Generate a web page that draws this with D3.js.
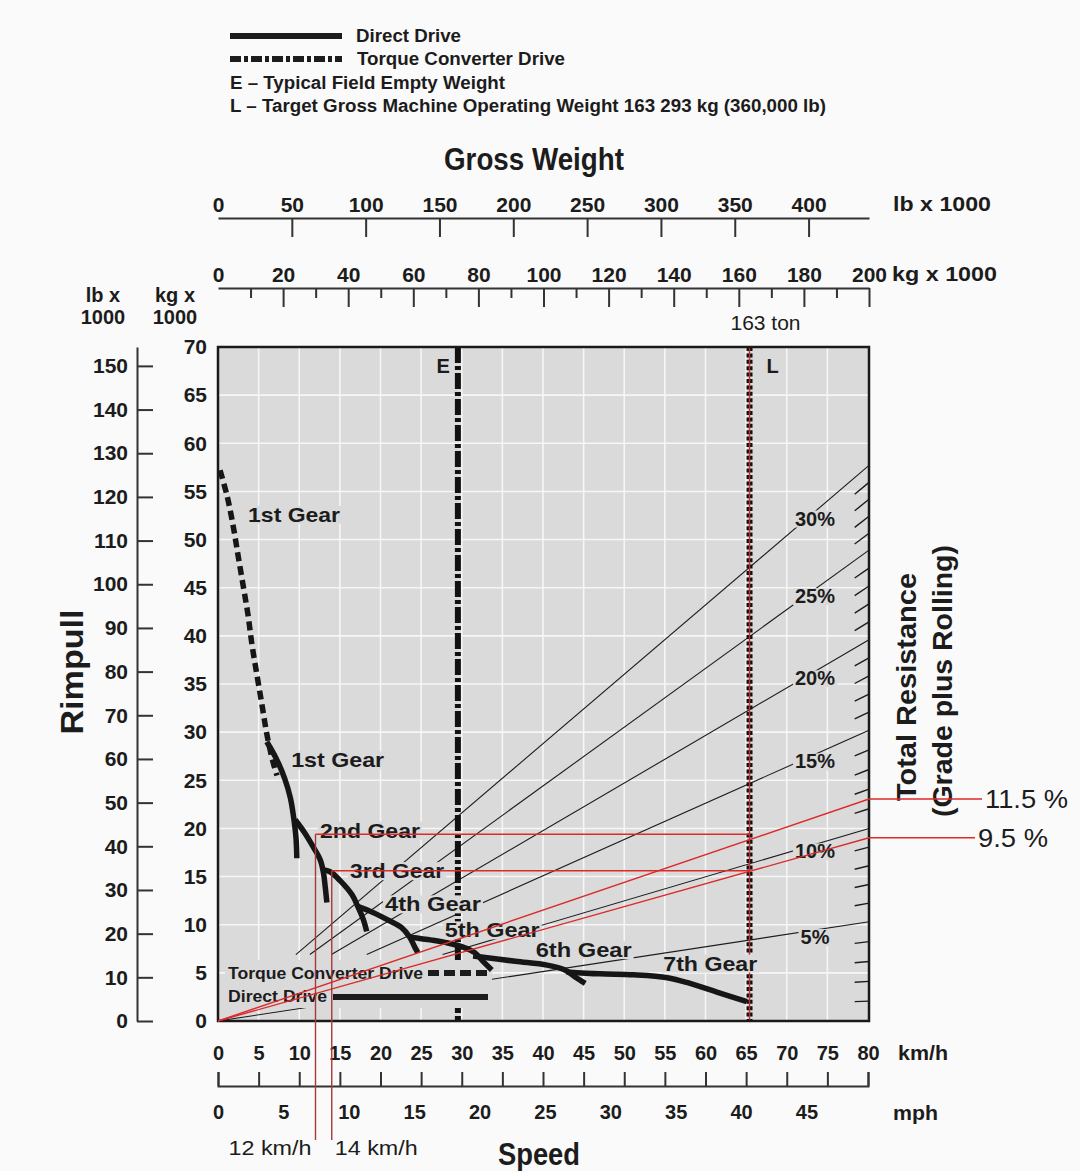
<!DOCTYPE html>
<html>
<head>
<meta charset="utf-8">
<script src="https://cdn.jsdelivr.net/npm/d3@7"></script>
<style>
  body { margin: 0; background: #fafafa; }
  svg { display: block; font-family: "Liberation Sans", Arial, Helvetica, sans-serif; }
</style>
</head>
<body>
<svg id="chart" width="1080" height="1171"></svg>
<script>
// ---------------- data ----------------
// rimpull axes
const rimpullTicksKg = d3.range(0, 71, 5);          // kg x 1000
const rimpullTicksLb = d3.range(0, 151, 10);        // lb x 1000
// speed axes
const speedTicksKmh = d3.range(0, 81, 5);
const speedTicksMph = d3.range(0, 46, 5);
// gross weight axes
const weightTicksLb = d3.range(0, 401, 50);
const weightTicksKg = d3.range(0, 201, 20);
const weightMinorKg = d3.range(10, 200, 20);

// torque converter drive, 1st gear (speed km/h, rimpull kg x 1000)
const tcFirstSpeed   = [0.25, 1.1, 1.85, 2.46, 3.08, 3.69, 4.18, 4.8, 5.42, 6.03, 6.77, 7.26];
const tcFirstRimpull = [57.2, 54.6, 51.5, 48.4, 45.3, 42.2, 39.1, 35.9, 32.8, 29.7, 26.9, 25.5];

// direct drive gears
const gearNames = ["1st Gear", "2nd Gear", "3rd Gear", "4th Gear", "5th Gear", "6th Gear", "7th Gear"];
const gearSpeeds = [
  [6.0, 7.2, 8.2, 8.9, 9.3, 9.6, 9.7],
  [9.5, 10.7, 11.7, 12.6, 13.0, 13.2, 13.4],
  [12.9, 13.8, 15.0, 16.5, 17.2, 17.9, 18.3],
  [17.2, 19.0, 20.9, 22.6, 23.6, 24.2, 24.6],
  [23.6, 26.3, 28.3, 30.4, 31.6, 32.5, 33.7],
  [31.4, 36.6, 40.5, 42.7, 43.9, 45.2],
  [42.9, 47.0, 51.1, 55.3, 58.1, 61.4, 65.1]
];
const gearRimpull = [
  [29.0, 27.2, 25.2, 23.2, 21.2, 19.0, 16.9],
  [20.9, 19.5, 18.1, 16.7, 15.3, 13.9, 12.3],
  [15.7, 15.5, 14.6, 13.1, 11.9, 10.5, 9.3],
  [11.9, 11.3, 10.5, 9.7, 8.7, 7.7, 7.1],
  [8.7, 8.4, 8.1, 7.6, 7.1, 6.3, 5.3],
  [6.75, 6.2, 5.8, 5.3, 4.6, 3.9],
  [5.1, 4.9, 4.8, 4.5, 3.9, 3.0, 2.0]
];

// total resistance (grade plus rolling): rimpull reached at 200 t gross weight
const gradePercents      = [0, 5, 10, 15, 20, 25, 30];
const gradeRimpullAt200  = [0, 10.3, 20.0, 30.2, 39.6, 48.9, 57.7];
const gradeLineStartRim  = [0, 0, 6.9, 6.9, 6.9, 6.9, 6.9];

// weight markers (kg x 1000)
const markerNames   = ["E", "L"];
const markerWeights = [73.7, 163.293];

// worked example: loaded truck on 11.5 % and 9.5 % total resistance
const exampleGrades   = [11.5, 9.5];
const exampleSpeeds   = [12, 14];
const exampleRimpull  = [19.4, 15.6];

// ---------------- layout ----------------
const svg = d3.select("#chart");
const PLOT = { left: 218, right: 869, top: 347, bottom: 1021 };
const PLOT_BG = "#dadada";
const INK = "#1c1c1c";
const RED = "#dc2a2a";
const RED_DARK = "#a8383a";

const xSpeed = d3.scaleLinear().domain([0, 80]).range([PLOT.left, 868]);
const xMph   = d3.scaleLinear().domain([0, 80 / 1.609344]).range([PLOT.left, 868]);
const xW     = d3.scaleLinear().domain([0, 200]).range([PLOT.left, PLOT.right]);
const xWlb   = d3.scaleLinear().domain([0, 200 * 2.20462]).range([PLOT.left, PLOT.right]);
const yRim   = d3.scaleLinear().domain([0, 70]).range([PLOT.bottom, PLOT.top]);
const yRimLb = d3.scaleLinear().domain([0, 70 * 2.20462]).range([PLOT.bottom, PLOT.top]);
const gradeScale = d3.scaleLinear().domain(gradePercents).range(gradeRimpullAt200);

// position along a resistance ray at a given gross weight
const rayPoint = (pct, w) => [xW(w), yRim(gradeScale(pct) * w / 200)];

// ---------------- legend ----------------
const legend = svg.append("g").attr("fill", INK).attr("font-weight", "bold").attr("font-size", 18);
legend.append("line").attr("x1", 230).attr("x2", 342).attr("y1", 36).attr("y2", 36)
  .attr("stroke", INK).attr("stroke-width", 6);
legend.append("line").attr("x1", 230).attr("x2", 342).attr("y1", 59).attr("y2", 59)
  .attr("stroke", INK).attr("stroke-width", 6).attr("stroke-dasharray", "11,3,4,3");
legend.append("text").attr("x", 356).attr("y", 42).attr("textLength", 105).attr("lengthAdjust", "spacingAndGlyphs").text("Direct Drive");
legend.append("text").attr("x", 357).attr("y", 65).attr("textLength", 208).attr("lengthAdjust", "spacingAndGlyphs").text("Torque Converter Drive");
legend.append("text").attr("x", 230).attr("y", 89).attr("textLength", 275).attr("lengthAdjust", "spacingAndGlyphs").text("E – Typical Field Empty Weight");
legend.append("text").attr("x", 230).attr("y", 112).attr("textLength", 596).attr("lengthAdjust", "spacingAndGlyphs")
  .text("L – Target Gross Machine Operating Weight 163 293 kg (360,000 lb)");

// ---------------- titles ----------------
svg.append("text").attr("x", 534).attr("y", 170).attr("text-anchor", "middle")
  .attr("font-size", 31).attr("font-weight", "bold").attr("fill", INK)
  .attr("textLength", 180).attr("lengthAdjust", "spacingAndGlyphs").text("Gross Weight");
svg.append("text").attr("transform", "translate(83,672) rotate(-90)").attr("text-anchor", "middle")
  .attr("font-size", 31).attr("font-weight", "bold").attr("fill", INK)
  .attr("textLength", 125).attr("lengthAdjust", "spacingAndGlyphs").text("Rimpull");
svg.append("text").attr("x", 539).attr("y", 1165).attr("text-anchor", "middle")
  .attr("font-size", 31).attr("font-weight", "bold").attr("fill", INK)
  .attr("textLength", 82).attr("lengthAdjust", "spacingAndGlyphs").text("Speed");
svg.append("text").attr("transform", "translate(916,687) rotate(-90)").attr("text-anchor", "middle")
  .attr("font-size", 27).attr("font-weight", "bold").attr("fill", INK)
  .attr("textLength", 228).attr("lengthAdjust", "spacingAndGlyphs").text("Total Resistance");
svg.append("text").attr("transform", "translate(952,681) rotate(-90)").attr("text-anchor", "middle")
  .attr("font-size", 27).attr("font-weight", "bold").attr("fill", INK)
  .attr("textLength", 272).attr("lengthAdjust", "spacingAndGlyphs").text("(Grade plus Rolling)");

// unit captions
const unitText = (x, y, s, anchor, len) => {
  const t = svg.append("text").attr("x", x).attr("y", y).attr("text-anchor", anchor)
    .attr("font-size", 20).attr("font-weight", "bold").attr("fill", INK).text(s);
  if (len) t.attr("textLength", len).attr("lengthAdjust", "spacingAndGlyphs");
};
unitText(103, 302, "lb x", "middle");
unitText(103, 324, "1000", "middle");
unitText(175, 302, "kg x", "middle");
unitText(175, 324, "1000", "middle");
unitText(893, 211, "lb x 1000", "start", 98);
unitText(892, 281, "kg x 1000", "start", 105);
unitText(898, 1060, "km/h", "start", 50);
unitText(893, 1120, "mph", "start", 45);

// ---------------- axes ----------------
function styleAxis(g, size) {
  g.selectAll(".domain").attr("stroke", "#333").attr("stroke-width", 2);
  g.selectAll(".tick line").attr("stroke", "#333").attr("stroke-width", 2);
  g.selectAll(".tick text").attr("fill", INK).attr("font-size", size).attr("font-weight", "bold")
    .attr("font-family", '"Liberation Sans", Arial, sans-serif');
}

// rimpull, lb x 1000
const gLb = svg.append("g").attr("transform", "translate(137,0)")
  .call(d3.axisLeft(yRimLb).tickValues(rimpullTicksLb).tickSizeInner(-16).tickSizeOuter(0).tickPadding(9));
styleAxis(gLb, 21);

// rimpull, kg x 1000
const gKg = svg.append("g").attr("transform", `translate(${PLOT.left},0)`)
  .call(d3.axisLeft(yRim).tickValues(rimpullTicksKg).tickSize(0).tickPadding(11));
gKg.select(".domain").remove();
styleAxis(gKg, 21);

// speed, km/h
const gKmh = svg.append("g").attr("transform", "translate(0,1086)")
  .call(d3.axisTop(xSpeed).tickValues(speedTicksKmh).tickSizeInner(14).tickSizeOuter(14).tickPadding(12));
styleAxis(gKmh, 20);

// speed, mph
const gMph = svg.append("g").attr("transform", "translate(0,1086)")
  .call(d3.axisBottom(xMph).tickValues(speedTicksMph).tickSize(0).tickPadding(19));
gMph.select(".domain").remove();
styleAxis(gMph, 20);

// gross weight, lb x 1000
const gWlb = svg.append("g").attr("transform", "translate(0,218)")
  .call(d3.axisTop(xWlb).tickValues(weightTicksLb).tickSizeInner(-19).tickSizeOuter(0).tickPadding(6));
gWlb.selectAll(".tick").filter(d => d === 0).select("line").remove();
styleAxis(gWlb, 21);

// gross weight, kg x 1000
const gWkg = svg.append("g").attr("transform", "translate(0,288)")
  .call(d3.axisTop(xW).tickValues(weightTicksKg).tickSizeInner(-19).tickSizeOuter(0).tickPadding(6));
gWkg.selectAll(".tick").filter(d => d === 0).select("line").remove();
styleAxis(gWkg, 21);
const gWkgMinor = svg.append("g").attr("transform", "translate(0,288)")
  .call(d3.axisTop(xW).tickValues(weightMinorKg).tickSizeInner(-10).tickFormat(""));
gWkgMinor.select(".domain").remove();
styleAxis(gWkgMinor, 21);

// ---------------- plot area ----------------
const plot = svg.append("g");
plot.append("rect").attr("x", PLOT.left).attr("y", PLOT.top)
  .attr("width", PLOT.right - PLOT.left).attr("height", PLOT.bottom - PLOT.top).attr("fill", PLOT_BG);

// white grid: every 5 km/h and every 5 t
plot.append("g").selectAll("line").data(speedTicksKmh.slice(1, -1)).join("line")
  .attr("x1", d => xSpeed(d)).attr("x2", d => xSpeed(d))
  .attr("y1", PLOT.top).attr("y2", PLOT.bottom)
  .attr("stroke", "#f6f6f6").attr("stroke-width", 1.6);
plot.append("g").selectAll("line").data(rimpullTicksKg.slice(1, -1)).join("line")
  .attr("y1", d => yRim(d)).attr("y2", d => yRim(d))
  .attr("x1", PLOT.left).attr("x2", PLOT.right)
  .attr("stroke", "#f6f6f6").attr("stroke-width", 1.6);

// total resistance rays
const rays = gradePercents.map((p, i) => ({ p, start: gradeLineStartRim[i], end: gradeRimpullAt200[i] }))
  .filter(d => d.p > 0);
plot.append("g").selectAll("line").data(rays).join("line")
  .attr("x1", d => rayPoint(d.p, 200 * d.start / d.end)[0])
  .attr("y1", d => rayPoint(d.p, 200 * d.start / d.end)[1])
  .attr("x2", d => rayPoint(d.p, 200)[0])
  .attr("y2", d => rayPoint(d.p, 200)[1])
  .attr("stroke", INK).attr("stroke-width", 1.1);

// 1 % graduations along the right edge
const gradeTicks = d3.range(1, 30).filter(p => p % 5 !== 0);
plot.append("g").selectAll("line").data(gradeTicks).join("line")
  .attr("x1", d => rayPoint(d, 195.6)[0]).attr("y1", d => rayPoint(d, 195.6)[1])
  .attr("x2", d => rayPoint(d, 200)[0]).attr("y2", d => rayPoint(d, 200)[1])
  .attr("stroke", INK).attr("stroke-width", 1.4);

// E and L weight lines
const markers = markerNames.map((n, i) => ({ n, w: markerWeights[i] }));
const gMark = plot.append("g");
gMark.append("line").datum(markers[0])
  .attr("x1", d => xW(d.w)).attr("x2", d => xW(d.w)).attr("y1", PLOT.top).attr("y2", PLOT.bottom)
  .attr("stroke", "#111").attr("stroke-width", 6).attr("stroke-dasharray", "16,3,4,3");
gMark.append("line").datum(markers[1])
  .attr("x1", d => xW(d.w)).attr("x2", d => xW(d.w)).attr("y1", PLOT.top).attr("y2", PLOT.bottom)
  .attr("stroke", "#111").attr("stroke-width", 6).attr("stroke-dasharray", "4,2.4");
gMark.append("line").datum(markers[1])
  .attr("x1", d => xW(d.w)).attr("x2", d => xW(d.w)).attr("y1", PLOT.top).attr("y2", PLOT.bottom)
  .attr("stroke", "#c03030").attr("stroke-width", 1.4);
gMark.append("text").attr("x", xW(markers[0].w) - 8).attr("y", 373).attr("text-anchor", "end")
  .attr("font-size", 20).attr("font-weight", "bold").attr("fill", INK).text(markers[0].n);
gMark.append("text").attr("x", xW(markers[1].w) + 17).attr("y", 373)
  .attr("font-size", 20).attr("font-weight", "bold").attr("fill", INK).text(markers[1].n);

// labels set on a knock-out patch of the plot colour
function patchLabel(g, s, x, y, opt = {}) {
  const grp = g.append("g");
  const rect = grp.append("rect").attr("fill", PLOT_BG);
  const t = grp.append("text").attr("x", x).attr("y", y).attr("dy", "0.35em")
    .attr("text-anchor", opt.anchor || "start")
    .attr("font-size", opt.size || 21).attr("font-weight", "bold").attr("fill", INK).text(s);
  if (opt.len) t.attr("textLength", opt.len).attr("lengthAdjust", "spacingAndGlyphs");
  const bb = t.node().getBBox();
  rect.attr("x", bb.x - 2).attr("y", bb.y + 3).attr("width", bb.width + 4).attr("height", bb.height - 5);
  return grp;
}
const gLabels = plot.append("g");

// percent labels sit just under their ray
const pctLabelWeight = xW.invert(815);
rays.forEach(r => {
  const [x, y] = rayPoint(r.p, pctLabelWeight);
  patchLabel(gLabels, r.p + "%", x, y + 7, { anchor: "middle", size: 20 });
});

// in-plot drive legend
const gDrive = gLabels.append("g");
gDrive.append("rect").attr("x", 225).attr("y", 960).attr("width", 267).attr("height", 48).attr("fill", PLOT_BG);
gDrive.append("text").attr("x", 228).attr("y", 979).attr("font-size", 16).attr("font-weight", "bold").attr("fill", INK)
  .attr("textLength", 195).attr("lengthAdjust", "spacingAndGlyphs").text("Torque Converter Drive");
gDrive.append("line").attr("x1", 428).attr("x2", 488).attr("y1", 973).attr("y2", 973)
  .attr("stroke", INK).attr("stroke-width", 6).attr("stroke-dasharray", "11,5");
gDrive.append("text").attr("x", 228).attr("y", 1002).attr("font-size", 16).attr("font-weight", "bold").attr("fill", INK)
  .attr("textLength", 99).attr("lengthAdjust", "spacingAndGlyphs").text("Direct Drive");
gDrive.append("line").attr("x1", 333).attr("x2", 488).attr("y1", 997).attr("y2", 997)
  .attr("stroke", INK).attr("stroke-width", 6);

// gear labels (left edge, vertical centre) in chart units
const gearLabelAt = [[3.7, 52.6], [9.0, 27.1], [12.55, 19.8], [16.25, 15.6], [20.55, 12.15], [27.9, 9.45], [39.1, 7.4], [54.8, 6.0]];
const gearLabelText = ["1st Gear"].concat(gearNames);
const gearLabelLen = [92, 93, 100, 94, 96, 95, 96, 94];
gearLabelText.forEach((s, i) => {
  patchLabel(gLabels, s, xSpeed(gearLabelAt[i][0]), yRim(gearLabelAt[i][1]), { size: 21, len: gearLabelLen[i] });
});

// ---------------- rimpull curves ----------------
const curveLine = d3.line().x(d => xSpeed(d[0])).y(d => yRim(d[1])).curve(d3.curveCatmullRom.alpha(0.5));
const gCurves = plot.append("g").attr("fill", "none").attr("stroke", "#161616");
gCurves.append("path").datum(d3.zip(tcFirstSpeed, tcFirstRimpull))
  .attr("d", curveLine).attr("stroke-width", 5.5).attr("stroke-dasharray", "9,5");
gCurves.selectAll("path.gear").data(gearSpeeds.map((s, i) => d3.zip(s, gearRimpull[i]))).join("path")
  .attr("class", "gear").attr("d", curveLine).attr("stroke-width", 5.5)
  .attr("stroke-linejoin", "round");

// frame
plot.append("rect").attr("x", PLOT.left).attr("y", PLOT.top)
  .attr("width", PLOT.right - PLOT.left).attr("height", PLOT.bottom - PLOT.top)
  .attr("fill", "none").attr("stroke", "#1a1a1a").attr("stroke-width", 2.5);

// ---------------- worked example (red) ----------------
const gEx = svg.append("g").attr("fill", "none");
const labelEnds = [982, 975];
exampleGrades.forEach((p, i) => {
  const [x0, y0] = rayPoint(p, 0);
  const [x1, y1] = rayPoint(p, 200);
  gEx.append("path").attr("d", `M${x0},${y0}L${x1},${y1}H${labelEnds[i]}`)
    .attr("stroke", RED).attr("stroke-width", 1.4);
  svg.append("text").attr("x", labelEnds[i] + 3).attr("y", y1).attr("dy", "0.36em")
    .attr("font-size", 26).attr("fill", INK).attr("font-family", '"Liberation Sans", Arial, sans-serif')
    .attr("textLength", i === 0 ? 83 : 70).attr("lengthAdjust", "spacingAndGlyphs")
    .text(p + " %");
});
exampleSpeeds.forEach((s, i) => {
  const x = xSpeed(s), y = yRim(exampleRimpull[i]);
  gEx.append("line").attr("x1", x).attr("x2", xW(markerWeights[1])).attr("y1", y).attr("y2", y)
    .attr("stroke", RED).attr("stroke-width", 1.4);
  gEx.append("line").attr("x1", x).attr("x2", x).attr("y1", y).attr("y2", 1140)
    .attr("stroke", RED_DARK).attr("stroke-width", 1.4);
  svg.append("text").attr("x", x + (i === 0 ? -4 : 3)).attr("y", 1155)
    .attr("text-anchor", i === 0 ? "end" : "start")
    .attr("font-size", 21).attr("fill", INK).attr("textLength", 83).attr("lengthAdjust", "spacingAndGlyphs")
    .text(s + " km/h");
});
svg.append("text").attr("x", xW(markerWeights[1]) + 16).attr("y", 330).attr("text-anchor", "middle")
  .attr("font-size", 21).attr("fill", INK).text(Math.round(markerWeights[1]) + " ton");
</script>
</body>
</html>
